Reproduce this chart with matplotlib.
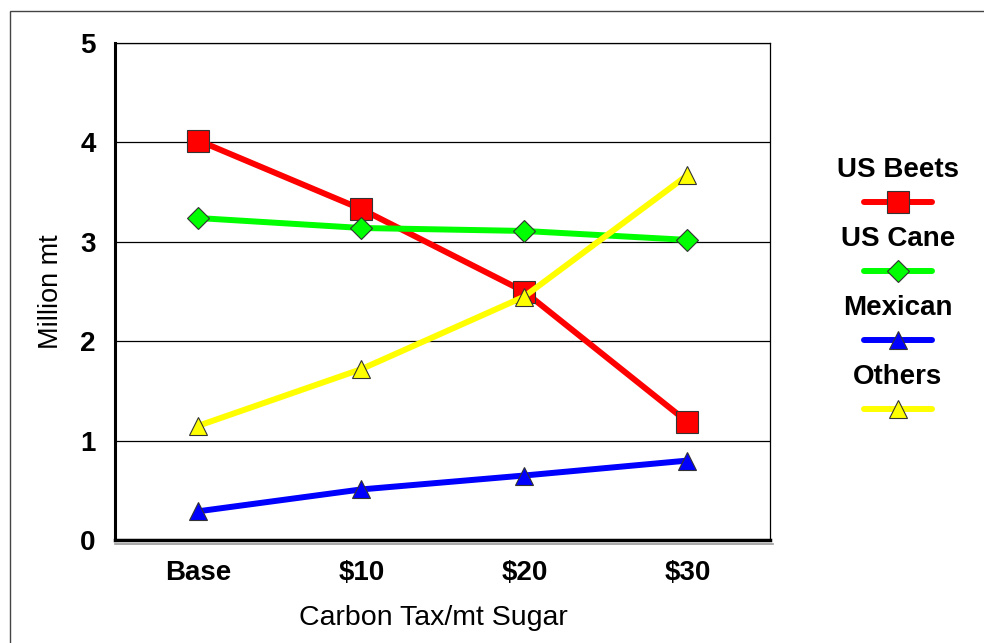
import matplotlib.pyplot as plt
from matplotlib.lines import Line2D
from matplotlib.patches import Rectangle

plt.rcParams['font.family'] = ['Liberation Sans', 'DejaVu Sans']

categories = ['Base', '$10', '$20', '$30']
us_beets = [4.02, 3.33, 2.50, 1.19]
us_cane = [3.24, 3.14, 3.11, 3.02]
mexican = [0.29, 0.51, 0.65, 0.80]
others = [1.15, 1.72, 2.45, 3.67]

series = [
    ('US Beets', us_beets, '#ff0000', 's', 15.5),
    ('US Cane', us_cane, '#00ff00', 'D', 11),
    ('Mexican', mexican, '#0000ff', '^', 13.5),
    ('Others', others, '#ffff00', '^', 13.5),
]

fig = plt.figure(figsize=(9.84, 6.43), dpi=100)
ax = fig.add_axes([0.117, 0.160, 0.666, 0.773])

x = list(range(len(categories)))
for name, vals, col, mk, ms in series:
    ax.plot(x, vals, color=col, lw=4.3, marker=mk, markersize=ms,
            markerfacecolor=col, markeredgecolor='#333333', markeredgewidth=0.8,
            solid_capstyle='round', zorder=3)

ax.set_xlim(-0.51, 3.51)
ax.set_ylim(0, 5)
ax.set_yticks(range(6))
ax.set_xticks(x)
ax.set_xticklabels(categories)
ax.tick_params(axis='both', length=0, labelsize=20)
for lbl in ax.get_xticklabels() + ax.get_yticklabels():
    lbl.set_fontweight('bold')
ax.tick_params(axis='x', pad=14)
ax.tick_params(axis='y', pad=14)
ax.yaxis.grid(True, color='black', lw=0.9)
ax.set_axisbelow(True)

for s in ['top', 'right']:
    ax.spines[s].set_linewidth(0.9)
ax.spines['left'].set_linewidth(2.2)
ax.spines['bottom'].set_linewidth(2.5)

ax.set_xlabel('Carbon Tax/mt Sugar', fontsize=20.5, labelpad=14)
ax.xaxis.label.set_x(0.485)
ax.set_ylabel('Million mt', fontsize=19.5, labelpad=12)

# grey shadow under the bottom axis
fig.add_artist(Line2D([115 / 984, 773 / 984], [1 - 544 / 643] * 2,
                      transform=fig.transFigure, color='#999999', lw=1.2))

# legend drawn by hand: label above each line sample
leg_x = 898 / 984
leg_half = 34 / 984
label_y = [170, 239, 308, 377]
line_y = [202, 271, 340, 409]
for (name, vals, col, mk, ms), ly, sy in zip(series, label_y, line_y):
    fig.text(leg_x, 1 - ly / 643, name, ha='center', va='center',
             fontsize=20, fontweight='bold')
    yy = 1 - sy / 643
    fig.add_artist(Line2D([leg_x - leg_half, leg_x + leg_half], [yy, yy],
                          transform=fig.transFigure, color=col, lw=4.3,
                          solid_capstyle='round'))
    fig.add_artist(Line2D([leg_x], [yy], transform=fig.transFigure,
                          marker=mk, markersize=ms, color=col,
                          markeredgecolor='#333333', markeredgewidth=0.8))

# outer frame
fig.add_artist(Rectangle((10 / 984, -0.01), 1.0, 1 - 11 / 643 + 0.01,
                         transform=fig.transFigure, fill=False,
                         edgecolor='#444444', lw=1))

fig.savefig('out.png', dpi=100)
